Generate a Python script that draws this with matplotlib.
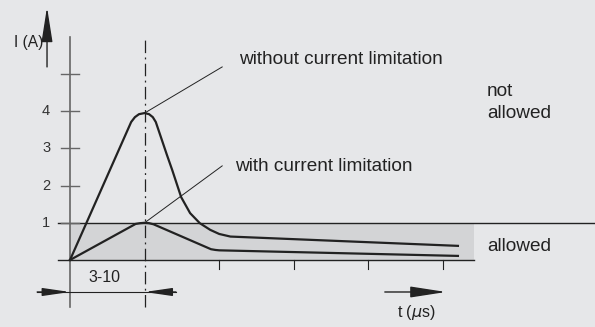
import matplotlib
matplotlib.use('Agg')
import matplotlib.pyplot as plt

#------------- 数据 (x: tick units, y: A) -------------#
t_without = [0, 0.82, 0.87, 0.925, 1.0, 1.06, 1.11, 1.15, 1.30, 1.37, 1.49, 1.61, 1.74, 1.88, 2.0, 2.15, 5.2]
i_without = [0, 3.71, 3.84, 3.92, 3.95, 3.92, 3.84, 3.71, 2.82, 2.42, 1.69, 1.26, 0.99, 0.81, 0.70, 0.63, 0.38]

t_with = [0, 0.88, 0.94, 1.0, 1.06, 1.12, 1.89, 1.95, 2.0, 5.2]
i_with = [0, 0.97, 0.99, 1.0, 0.99, 0.96, 0.29, 0.27, 0.26, 0.11]

y_ticks = [1, 2, 3, 4, 5]
y_labels = ['1', '2', '3', '4', '']
x_ticks = [2, 3, 4, 5]
allowed_limit = 1.0
t_end = 5.415

#------------- 样式 -------------#
bg = '#e6e7e9'
shade = '#d3d4d6'
dark = '#222222'
grey = '#666666'
plt.rcParams['font.family'] = ['Liberation Sans', 'DejaVu Sans']
fs = 13.7

fig = plt.figure(figsize=(5.95, 3.27), dpi=100, facecolor=bg)
ax = fig.add_axes([0, 0, 1, 1])
ax.set_facecolor(bg)
ax.set_xlim(-70 / 74.6, 525 / 74.6)
ax.set_ylim(-67 / 37.2, 260 / 37.2)
ax.axis('off')

# 允许区域
ax.fill_between([0, t_end], 0, allowed_limit, color=shade, lw=0, zorder=1)
ax.plot([-0.16, t_end], [0, 0], color=dark, lw=1.0, zorder=2)
ax.plot([-0.16, 7.1], [allowed_limit, allowed_limit], color=dark, lw=1.0, zorder=2)

# y 轴
ax.plot([0, 0], [-1.26, 6.0], color=grey, lw=1.2, zorder=2)
for y, lab in zip(y_ticks, y_labels):
    ax.plot([-0.12, 0.12], [y, y], color=grey, lw=1.0, zorder=2)
    ax.text(-0.32, y, lab, ha='center', va='center', fontsize=10.5, color='#333333')

# x 刻度
for x in x_ticks:
    ax.plot([x, x], [0, -0.24], color=dark, lw=0.8, zorder=2)

# 点划线
ax.plot([1, 1], [-1.26, 6.0], color=dark, lw=0.9, ls=(0, (10, 3.5, 1.5, 3.5)), zorder=2)

# 曲线
ax.plot(t_without, i_without, color=dark, lw=1.6, zorder=3, solid_joinstyle='round')
ax.plot(t_with, i_with, color=dark, lw=1.6, zorder=3, solid_joinstyle='round')

# 引线和文字
ax.plot([1, 2.04], [3.95, 5.19], color=dark, lw=0.7, zorder=3)
ax.plot([1, 2.04], [1.0, 2.53], color=dark, lw=0.7, zorder=3)
ax.text(2.27, 5.38, 'without current limitation', ha='left', va='center', fontsize=fs, color=dark)
ax.text(2.215, 2.5, 'with current limitation', ha='left', va='center', fontsize=fs, color=dark)
ax.text(5.59, 4.52, 'not', ha='left', va='center', fontsize=fs, color=dark)
ax.text(5.59, 3.95, 'allowed', ha='left', va='center', fontsize=fs, color=dark)
ax.text(5.59, 0.35, 'allowed', ha='left', va='center', fontsize=fs, color=dark)

# 箭头
def arrow(tail, tip, hl, hw):
    ax.annotate('', xy=tip, xytext=tail,
                arrowprops=dict(arrowstyle='-|>,head_length=%g,head_width=%g' % (hl, hw),
                                color=dark, lw=1.0, shrinkA=0, shrinkB=0, mutation_scale=10),
                zorder=4)

arrow((-0.308, 5.19), (-0.308, 6.80), 2.16, 0.34)
ax.text(-0.55, 5.86, 'I (A)', ha='center', va='center', fontsize=11.2, color=dark)

# 3-10 尺寸
ax.plot([-0.44, 1.42], [-0.86, -0.86], color=dark, lw=0.8, zorder=3)
arrow((-0.44, -0.86), (0, -0.86), 1.65, 0.24)
arrow((1.42, -0.86), (1, -0.86), 1.65, 0.24)
ax.text(0.456, -0.457, '3-10', ha='center', va='center', fontsize=11.5, color=dark)

# t 轴箭头
arrow((4.22, -0.86), (5.04, -0.86), 2.2, 0.34)
ax.text(4.64, -1.42, r't ($\mu$s)', ha='center', va='center', fontsize=11.5, color=dark)

fig.savefig('out.png', dpi=100, facecolor=bg)
